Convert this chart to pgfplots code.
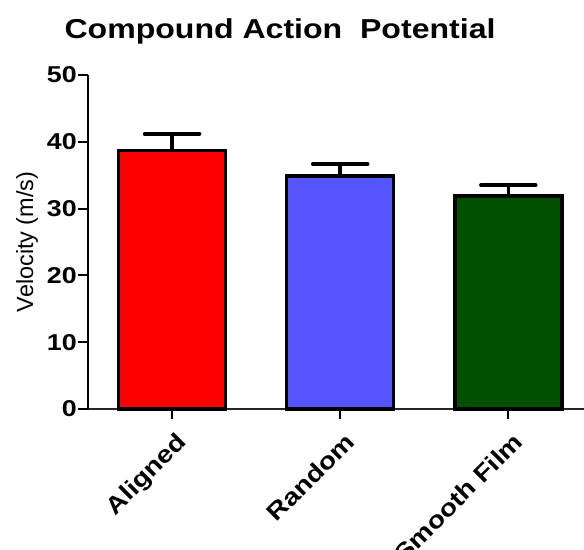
\documentclass[border=0pt]{standalone}
\usepackage{fontspec}
\setmainfont{Liberation Sans}
\newfontfamily\sfx{Liberation Sans}[FakeStretch=1.17]
\usepackage{pgfplots}
\pgfplotsset{compat=1.18}
\definecolor{barred}{RGB}{255,0,0}
\definecolor{barblue}{RGB}{85,85,255}
\definecolor{bargreen}{RGB}{0,80,0}
\pgfplotsset{
  mybar/.style={ybar, bar shift=0pt, bar width=107bp, draw=black, line width=3.5bp,
    error bars/y dir=plus, error bars/y explicit,
    error bars/error bar style={line width=3.5bp, black, line cap=round},
    error bars/error mark options={rotate=90, mark size=27.5bp, line width=3.5bp, black, line cap=round}}
}
\begin{document}
\begin{tikzpicture}
\path[use as bounding box] (0bp,0bp) rectangle (584bp,-550bp);
\node[anchor=base, font=\sfx\bfseries\fontsize{27.5}{30}\selectfont] at (280bp,-38bp) {Compound Action\ \ Potential};
\begin{axis}[
  at={(88bp,-409bp)}, anchor=south west,
  scale only axis, width=496bp, height=334bp,
  xmin=-0.5, xmax=2.45, ymin=0, ymax=50,
  axis x line*=bottom, axis y line*=left,
  x axis line style={-, line width=1.5bp, black!85},
  y axis line style={-, line width=2.5bp, black},
  ytick={0,10,20,30,40,50},
  xtick={0,1,2}, xticklabels={Aligned,Random,Smooth Film},
  tick align=outside, major tick length=10bp,
  tick style={black, line width=2bp},
  /pgf/number format/assume math mode=true,
  yticklabel style={font=\sfx\bfseries\fontsize{23}{26}\selectfont, inner sep=1bp},
  xticklabel style={font=\sfx\bfseries\fontsize{24}{28}\selectfont, rotate=45, anchor=north east, inner sep=2bp, yshift=-9bp, xshift=-4bp},
  ylabel={Velocity (m/s)},
  every axis y label/.style={at={(axis description cs:0,0.5)}, xshift=-61bp, rotate=90, anchor=center, font=\fontsize{23.5}{26}\selectfont},
  clip=false,
]
\addplot[mybar, fill=barred] coordinates {(0,38.7) +- (0,2.5)};
\addplot[mybar, fill=barblue] coordinates {(1,34.9) +- (0,1.8)};
\addplot[mybar, fill=bargreen] coordinates {(2,31.9) +- (0,1.6)};
\end{axis}
\end{tikzpicture}
\end{document}
